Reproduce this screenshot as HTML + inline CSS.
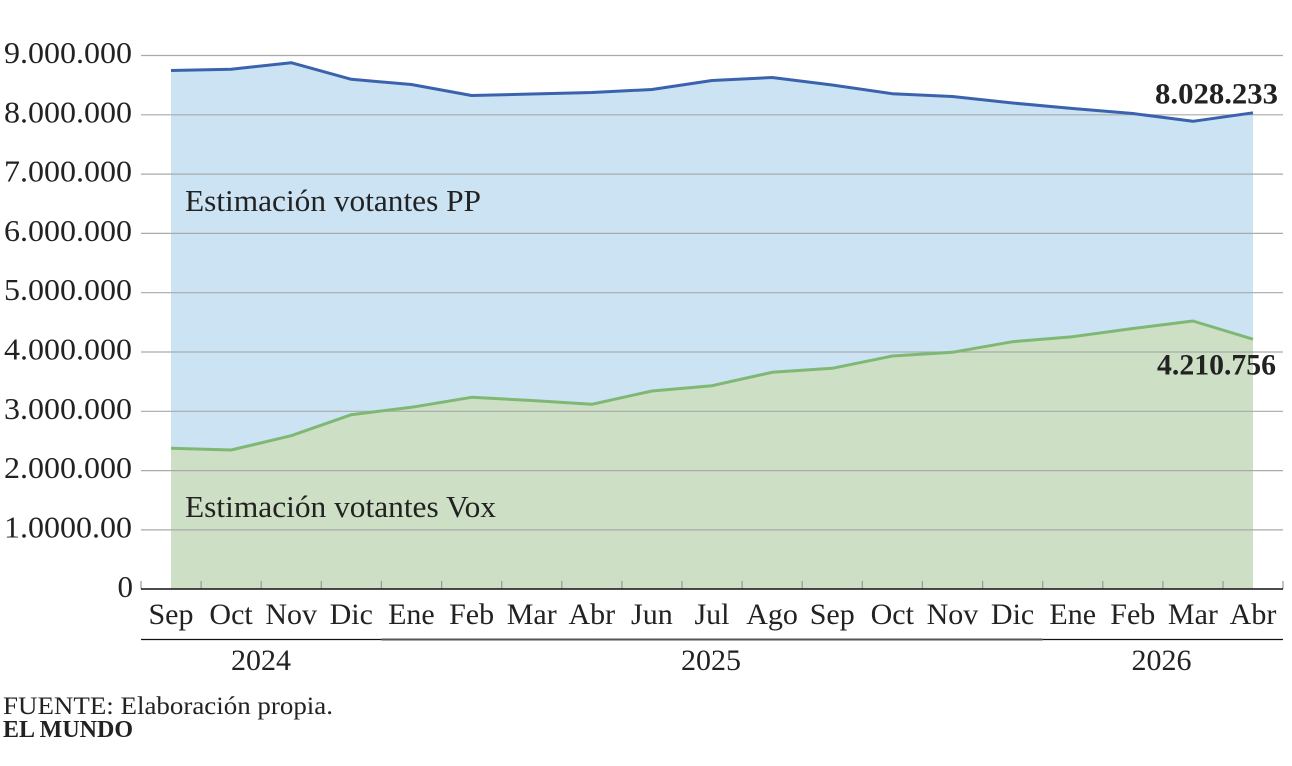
<!DOCTYPE html>
<html>
<head>
<meta charset="utf-8">
<style>
html,body{margin:0;padding:0;background:#fff;}
svg{display:block;}
text{font-family:"Liberation Serif",serif;fill:#222;}
</style>
</head>
<body>
<svg width="1292" height="766" viewBox="0 0 1292 766" xmlns="http://www.w3.org/2000/svg">
<rect x="0" y="0" width="1292" height="766" fill="#fff"/>

<!-- PP area -->
<polygon fill="#cbe3f3" points="171,588.7 171,70.5 231.1,69.3 291.2,62.7 351.3,79.3 411.4,84.5 471.6,95.5 531.7,94 591.8,92.5 651.9,89.5 712,80.5 772.1,77.5 832.2,85 892.3,93.7 952.4,96.5 1012.6,103 1072.7,108.5 1132.8,113.5 1192.9,121.3 1253,112.8 1253,588.7"/>
<!-- Vox area -->
<polygon fill="#cddfc4" points="171,588.7 171,448.3 231.1,450 291.2,435.7 351.3,414.7 411.4,407.3 471.6,397.3 531.7,400.5 591.8,404.3 651.9,391 712,385.7 772.1,372.3 832.2,368.3 892.3,356 952.4,352.3 1012.6,341.7 1072.7,336.7 1132.8,328.5 1192.9,321 1253,339.2 1253,588.7"/>

<!-- gridlines -->
<g stroke="#aaaaaa" stroke-width="1.2">
<line x1="141" y1="55.5" x2="1283" y2="55.5"/>
<line x1="141" y1="114.8" x2="1283" y2="114.8"/>
<line x1="141" y1="174.1" x2="1283" y2="174.1"/>
<line x1="141" y1="233.4" x2="1283" y2="233.4"/>
<line x1="141" y1="292.7" x2="1283" y2="292.7"/>
<line x1="141" y1="352" x2="1283" y2="352"/>
<line x1="141" y1="411.3" x2="1283" y2="411.3"/>
<line x1="141" y1="470.6" x2="1283" y2="470.6"/>
<line x1="141" y1="529.9" x2="1283" y2="529.9"/>
</g>

<!-- lines -->
<polyline fill="none" stroke="#3b63ad" stroke-width="3" stroke-linejoin="round" points="171,70.5 231.1,69.3 291.2,62.7 351.3,79.3 411.4,84.5 471.6,95.5 531.7,94 591.8,92.5 651.9,89.5 712,80.5 772.1,77.5 832.2,85 892.3,93.7 952.4,96.5 1012.6,103 1072.7,108.5 1132.8,113.5 1192.9,121.3 1253,112.8"/>
<polyline fill="none" stroke="#7fb874" stroke-width="3" stroke-linejoin="round" points="171,448.3 231.1,450 291.2,435.7 351.3,414.7 411.4,407.3 471.6,397.3 531.7,400.5 591.8,404.3 651.9,391 712,385.7 772.1,372.3 832.2,368.3 892.3,356 952.4,352.3 1012.6,341.7 1072.7,336.7 1132.8,328.5 1192.9,321 1253,339.2"/>

<!-- ticks -->
<g stroke="#999" stroke-width="1.2">
<line x1="141" y1="581" x2="141" y2="589"/>
<line x1="201.1" y1="581" x2="201.1" y2="589"/>
<line x1="261.2" y1="581" x2="261.2" y2="589"/>
<line x1="321.3" y1="581" x2="321.3" y2="589"/>
<line x1="381.4" y1="581" x2="381.4" y2="589"/>
<line x1="441.6" y1="581" x2="441.6" y2="589"/>
<line x1="501.7" y1="581" x2="501.7" y2="589"/>
<line x1="561.8" y1="581" x2="561.8" y2="589"/>
<line x1="621.9" y1="581" x2="621.9" y2="589"/>
<line x1="682" y1="581" x2="682" y2="589"/>
<line x1="742.1" y1="581" x2="742.1" y2="589"/>
<line x1="802.2" y1="581" x2="802.2" y2="589"/>
<line x1="862.3" y1="581" x2="862.3" y2="589"/>
<line x1="922.4" y1="581" x2="922.4" y2="589"/>
<line x1="982.6" y1="581" x2="982.6" y2="589"/>
<line x1="1042.7" y1="581" x2="1042.7" y2="589"/>
<line x1="1102.8" y1="581" x2="1102.8" y2="589"/>
<line x1="1162.9" y1="581" x2="1162.9" y2="589"/>
<line x1="1223" y1="581" x2="1223" y2="589"/>
<line x1="1283" y1="581" x2="1283" y2="589"/>
</g>
<!-- axis line -->
<line x1="141" y1="589" x2="1283" y2="589" stroke="#111" stroke-width="1.6"/>

<!-- year separators -->
<line x1="141" y1="639.5" x2="381.4" y2="639.5" stroke="#111" stroke-width="1.2"/>
<line x1="381.4" y1="639.5" x2="1042.7" y2="639.5" stroke="#555" stroke-width="2"/>
<line x1="1042.7" y1="639.5" x2="1283" y2="639.5" stroke="#111" stroke-width="1.2"/>

<!-- y labels -->
<g font-size="31" text-anchor="end">
<text x="132" y="63" textLength="128" lengthAdjust="spacingAndGlyphs">9.000.000</text>
<text x="132" y="122.3" textLength="128" lengthAdjust="spacingAndGlyphs">8.000.000</text>
<text x="132" y="181.6" textLength="128" lengthAdjust="spacingAndGlyphs">7.000.000</text>
<text x="132" y="240.9" textLength="128" lengthAdjust="spacingAndGlyphs">6.000.000</text>
<text x="132" y="300.2" textLength="128" lengthAdjust="spacingAndGlyphs">5.000.000</text>
<text x="132" y="359.5" textLength="128" lengthAdjust="spacingAndGlyphs">4.000.000</text>
<text x="132" y="418.8" textLength="128" lengthAdjust="spacingAndGlyphs">3.000.000</text>
<text x="132" y="478.1" textLength="128" lengthAdjust="spacingAndGlyphs">2.000.000</text>
<text x="132" y="537.4" textLength="128" lengthAdjust="spacingAndGlyphs">1.0000.00</text>
<text x="133" y="597">0</text>
</g>

<!-- month labels -->
<g font-size="30" text-anchor="middle">
<text x="171" y="624">Sep</text>
<text x="231.1" y="624">Oct</text>
<text x="291.2" y="624">Nov</text>
<text x="351.3" y="624">Dic</text>
<text x="411.4" y="624">Ene</text>
<text x="471.6" y="624">Feb</text>
<text x="531.7" y="624">Mar</text>
<text x="591.8" y="624">Abr</text>
<text x="651.9" y="624">Jun</text>
<text x="712" y="624">Jul</text>
<text x="772.1" y="624">Ago</text>
<text x="832.2" y="624">Sep</text>
<text x="892.3" y="624">Oct</text>
<text x="952.4" y="624">Nov</text>
<text x="1012.6" y="624">Dic</text>
<text x="1072.7" y="624">Ene</text>
<text x="1132.8" y="624">Feb</text>
<text x="1192.9" y="624">Mar</text>
<text x="1253" y="624">Abr</text>
</g>

<!-- years -->
<g font-size="30" text-anchor="middle">
<text x="261" y="670">2024</text>
<text x="711" y="670">2025</text>
<text x="1161.5" y="670">2026</text>
</g>

<!-- series labels -->
<text x="185" y="211" font-size="31" textLength="296" lengthAdjust="spacingAndGlyphs">Estimación votantes PP</text>
<text x="185" y="517" font-size="31" textLength="311" lengthAdjust="spacingAndGlyphs">Estimación votantes Vox</text>

<!-- value labels -->
<text x="1278" y="103.5" font-size="30" font-weight="bold" text-anchor="end" textLength="123" lengthAdjust="spacingAndGlyphs">8.028.233</text>
<text x="1276" y="374.5" font-size="30" font-weight="bold" text-anchor="end" textLength="119" lengthAdjust="spacingAndGlyphs">4.210.756</text>

<!-- footer -->
<text x="3" y="714" font-size="25" textLength="330" lengthAdjust="spacingAndGlyphs">FUENTE: Elaboración propia.</text>
<text x="3" y="737" font-size="24" font-weight="bold" textLength="130" lengthAdjust="spacingAndGlyphs">EL MUNDO</text>
</svg>
</body>
</html>
